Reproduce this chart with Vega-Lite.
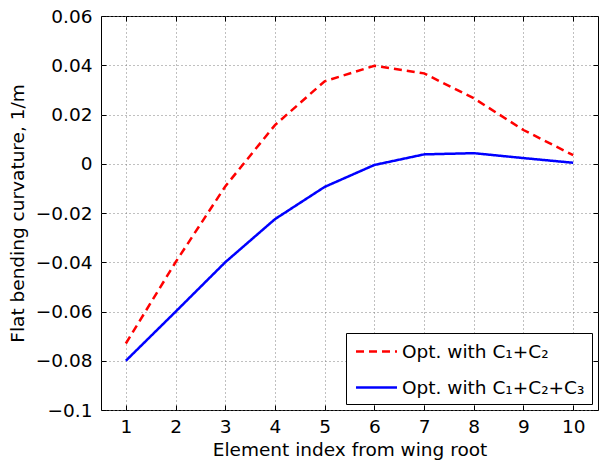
{
  "$schema": "https://vega.github.io/schema/vega-lite/v6.json",
  "width": 497,
  "height": 394,
  "autosize": {"type": "none"},
  "padding": {"left": 101, "top": 16, "right": 1, "bottom": 56},
  "background": "white",
  "config": {
    "font": "DejaVu Sans",
    "view": {"stroke": "black", "strokeWidth": 1},
    "axis": {
      "labelFont": "DejaVu Sans",
      "labelFontSize": 18.5,
      "labelColor": "black",
      "titleFont": "DejaVu Sans",
      "titleFontSize": 18.5,
      "titleFontWeight": "normal",
      "titleColor": "black",
      "tickColor": "black",
      "tickSize": -5,
      "tickWidth": 1,
      "domain": false,
      "gridColor": "#808080",
      "gridDash": [1, 3],
      "gridWidth": 1
    },
    "legend": {
      "orient": "bottom-right",
      "offset": 6,
      "labelFont": "DejaVu Sans",
      "labelFontSize": 18.5,
      "labelColor": "black",
      "labelLimit": 400,
      "symbolType": "M-2,0H2",
      "symbolSize": 420,
      "symbolOffset": 12,
      "symbolStrokeWidth": 2.5,
      "strokeColor": "black",
      "fillColor": "white",
      "padding": 7,
      "rowPadding": 15,
      "labelOffset": 14
    }
  },
  "data": {
    "values": [
      {"idx": 1, "v": -0.073, "s": "Opt. with C₁+C₂"},
      {"idx": 2, "v": -0.040, "s": "Opt. with C₁+C₂"},
      {"idx": 3, "v": -0.0092, "s": "Opt. with C₁+C₂"},
      {"idx": 4, "v": 0.0157, "s": "Opt. with C₁+C₂"},
      {"idx": 5, "v": 0.0335, "s": "Opt. with C₁+C₂"},
      {"idx": 6, "v": 0.0398, "s": "Opt. with C₁+C₂"},
      {"idx": 7, "v": 0.0367, "s": "Opt. with C₁+C₂"},
      {"idx": 8, "v": 0.0266, "s": "Opt. with C₁+C₂"},
      {"idx": 9, "v": 0.0137, "s": "Opt. with C₁+C₂"},
      {"idx": 10, "v": 0.0035, "s": "Opt. with C₁+C₂"},
      {"idx": 1, "v": -0.080, "s": "Opt. with C₁+C₂+C₃"},
      {"idx": 2, "v": -0.0601, "s": "Opt. with C₁+C₂+C₃"},
      {"idx": 3, "v": -0.040, "s": "Opt. with C₁+C₂+C₃"},
      {"idx": 4, "v": -0.0225, "s": "Opt. with C₁+C₂+C₃"},
      {"idx": 5, "v": -0.0094, "s": "Opt. with C₁+C₂+C₃"},
      {"idx": 6, "v": -0.0005, "s": "Opt. with C₁+C₂+C₃"},
      {"idx": 7, "v": 0.0038, "s": "Opt. with C₁+C₂+C₃"},
      {"idx": 8, "v": 0.0043, "s": "Opt. with C₁+C₂+C₃"},
      {"idx": 9, "v": 0.0023, "s": "Opt. with C₁+C₂+C₃"},
      {"idx": 10, "v": 0.0004, "s": "Opt. with C₁+C₂+C₃"}
    ]
  },
  "layer": [
    {
      "mark": {"type": "line", "strokeWidth": 2.5},
      "encoding": {
        "x": {
          "field": "idx", "type": "quantitative",
          "scale": {"domain": [0.5, 10.5], "nice": false, "zero": false},
          "axis": {"orient": "bottom", "values": [1,2,3,4,5,6,7,8,9,10], "format": "d", "grid": true, "labelPadding": 12, "title": "Element index from wing root", "titlePadding": 5}
        },
        "y": {
          "field": "v", "type": "quantitative",
          "scale": {"domain": [-0.1, 0.06], "nice": false, "zero": false},
          "axis": {"orient": "left", "values": [-0.1,-0.08,-0.06,-0.04,-0.02,0,0.02,0.04,0.06], "format": ".2~f", "grid": true, "labelPadding": 14, "title": "Flat bending curvature, 1/m", "titlePadding": 8}
        },
        "color": {
          "field": "s", "type": "nominal",
          "scale": {"domain": ["Opt. with C₁+C₂", "Opt. with C₁+C₂+C₃"], "range": ["#ff0000", "#0000ff"]},
          "legend": {"title": null}
        },
        "strokeDash": {
          "field": "s", "type": "nominal",
          "scale": {"domain": ["Opt. with C₁+C₂", "Opt. with C₁+C₂+C₃"], "range": [[8, 5], [1, 0]]},
          "legend": {"title": null}
        }
      }
    },
    {
      "mark": {"type": "line", "opacity": 0},
      "encoding": {
        "x": {
          "field": "idx", "type": "quantitative",
          "scale": {"domain": [0.5, 10.5], "nice": false, "zero": false},
          "axis": {"orient": "top", "values": [1,2,3,4,5,6,7,8,9,10], "labels": false, "grid": false, "title": null}
        },
        "y": {
          "field": "v", "type": "quantitative",
          "scale": {"domain": [-0.1, 0.06], "nice": false, "zero": false},
          "axis": {"orient": "right", "values": [-0.1,-0.08,-0.06,-0.04,-0.02,0,0.02,0.04,0.06], "labels": false, "grid": false, "title": null}
        }
      }
    }
  ],
  "resolve": {"scale": {"x": "independent", "y": "independent"}, "axis": {"x": "independent", "y": "independent"}}
}
